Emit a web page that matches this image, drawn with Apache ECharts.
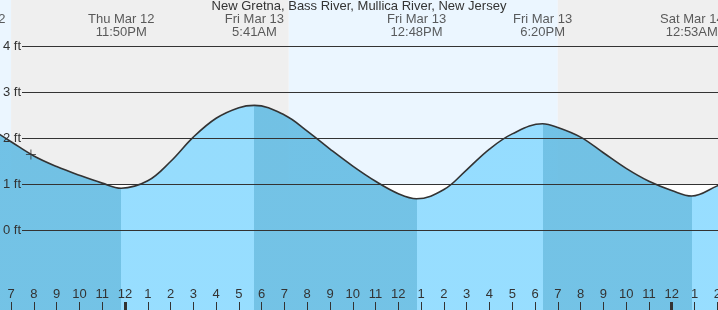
<!DOCTYPE html>
<html><head><meta charset="utf-8">
<script src="https://cdn.jsdelivr.net/npm/echarts@6/dist/echarts.min.js"></script>
<style>html,body{margin:0;padding:0;overflow:hidden;background:#fff}#c{width:718px;height:310px}</style>
</head><body><div id="c"></div>
<script>
const TITLE = 'New Gretna, Bass River, Mullica River, New Jersey';
// time = hours since Fri Mar 13 00:00, height in ft
const tideTimes = [-5.6,-5,-4,-3,-2,-1,-0.17,1,2,3,4,5,5.68,7,8,9,10,11,12,12.8,14,15,16,17,18.33,19,20,21,22,23,24,24.88,26,26.1];
const tideHeights = [2.12,1.93,1.62,1.39,1.20,1.03,0.92,1.08,1.50,2.03,2.44,2.67,2.72,2.51,2.16,1.77,1.40,1.07,0.80,0.69,0.89,1.32,1.77,2.10,2.32,2.24,2.03,1.69,1.35,1.07,0.87,0.75,0.97,1.0];

const extremeTimes = [-6.7, -0.1667, 5.6833, 12.8, 18.3333, 24.8833];
const extremeKinds = ['H','L','H','L','H','L'];
const extremeDates = ['Thu Mar 12','Thu Mar 12','Fri Mar 13','Fri Mar 13','Fri Mar 13','Sat Mar 14'];
const extremeClock = ['5:18PM','11:50PM','5:41AM','12:48PM','6:20PM','12:53AM'];

const sunEvents = [-5.0, 7.19, 19.0];        // sunset, sunrise, sunset
const sunKinds = ['set','rise','set'];

const hourTicks = [-5,-4,-3,-2,-1,0,1,2,3,4,5,6,7,8,9,10,11,12,13,14,15,16,17,18,19,20,21,22,23,24,25,26];
const midnightTicks = [0, 24];
const yTicks = [0,1,2,3,4];

const nowTime = -4.13, nowHeight = 1.65;

// ---- layout / style ----
const X_MIN = -5.487, X_MAX = 26.032;
const Y_MIN = -1.7283, Y_MAX = 5.0109;
const W = 718;
const PX_PER_H = W / (X_MAX - X_MIN);
const GRID_START = X_MIN + 22 / PX_PER_H;
const FONT = "'Liberation Sans', Arial, sans-serif";
const TXT = '#333';
const DAY = '#ebf6ff', NIGHT = '#efefef';
const RISE = '#8cdaff', FALL = '#64bce3';

const tideData = tideTimes.map((t, i) => [t, tideHeights[i]]);

const bands = [];
let start = X_MIN, isDay = sunKinds[0] === 'set';
for (let i = 0; i <= sunEvents.length; i++) {
  const end = i < sunEvents.length ? sunEvents[i] : X_MAX;
  bands.push([{xAxis: start, itemStyle: {color: isDay ? DAY : NIGHT}}, {xAxis: end}]);
  start = end; isDay = !isDay;
}

const pieces = [{lt: extremeTimes[0], color: extremeKinds[0] === 'H' ? RISE : FALL}];
extremeTimes.forEach((t, i) => {
  const p = {gte: t, color: extremeKinds[i] === 'H' ? FALL : RISE};
  if (i + 1 < extremeTimes.length) p.lt = extremeTimes[i + 1];
  pieces.push(p);
});

const gridLines = yTicks.map(v => [{coord: [GRID_START, v]}, {coord: [X_MAX, v]}]);

const hourLabel = v => { const h = ((v % 24) + 24) % 24; return String(h % 12 === 0 ? 12 : h % 12); };

const gridBox = {left: 0, right: 0, top: 0, bottom: 0, containLabel: false, outerBoundsMode: 'none'};
const SMOOTH = 0.38;

const chart = echarts.init(document.getElementById('c'), null, {renderer: 'canvas'});
chart.setOption({
  animation: false,
  backgroundColor: '#fff',
  title: {
    text: TITLE, left: 'center', top: 0, padding: 0,
    textStyle: {fontSize: 13, fontWeight: 'normal', color: TXT, fontFamily: FONT}
  },
  grid: [Object.assign({}, gridBox), Object.assign({}, gridBox)],
  xAxis: [{
    type: 'value', min: X_MIN, max: X_MAX, z: 10, position: 'bottom',
    axisLine: {show: false, onZero: false}, splitLine: {show: false},
    axisTick: {show: true, inside: true, length: 8, customValues: hourTicks, lineStyle: {color: TXT, width: 1}},
    axisLabel: {show: true, inside: true, margin: 9, customValues: hourTicks, formatter: hourLabel,
      fontSize: 13, color: TXT, fontFamily: FONT}
  }, {
    type: 'value', gridIndex: 1, min: X_MIN, max: X_MAX, z: 11, position: 'bottom',
    axisLine: {show: false, onZero: false}, splitLine: {show: false}, axisLabel: {show: false},
    axisTick: {show: true, inside: true, length: 8, customValues: midnightTicks, lineStyle: {color: TXT, width: 3}}
  }],
  yAxis: [{
    type: 'value', min: Y_MIN, max: Y_MAX, z: 10,
    axisLine: {show: false, onZero: false}, axisTick: {show: false}, splitLine: {show: false},
    axisLabel: {show: true, inside: true, margin: 3, customValues: yTicks, formatter: v => v + ' ft',
      fontSize: 13, color: TXT, fontFamily: FONT}
  }, {
    type: 'value', gridIndex: 1, min: Y_MIN, max: Y_MAX, show: false,
    axisLine: {onZero: false}
  }],
  visualMap: {
    type: 'piecewise', show: false, dimension: 0, seriesIndex: 3, pieces: pieces
  },
  series: [
    {type: 'line', z: 1, data: [], symbol: 'none', silent: true,
     markArea: {silent: true, data: bands}},
    {type: 'line', z: 2, data: [[X_MIN, 1], [X_MAX, 1]], symbol: 'none', silent: true,
     lineStyle: {width: 0}, areaStyle: {color: '#fff', opacity: 1, origin: 'start'}},
    {type: 'line', z: 3, data: [], symbol: 'none', silent: true,
     markLine: {silent: true, symbol: ['none', 'none'], label: {show: false},
       lineStyle: {color: TXT, width: 1, type: 'solid'}, data: gridLines}},
    {type: 'line', z: 4, data: tideData, smooth: SMOOTH, symbol: 'none', silent: true,
     lineStyle: {width: 0}, areaStyle: {opacity: 0.9, origin: 'start'}},
    {type: 'line', z: 5, data: tideData, smooth: SMOOTH, symbol: 'none', silent: true,
     lineStyle: {color: TXT, width: 1.6}},
    {type: 'scatter', z: 6, clip: false, silent: true, symbolSize: 0,
     data: extremeTimes.map(t => [t, Y_MAX]),
     label: {show: true, position: 'bottom', distance: 13, align: 'center',
       formatter: p => extremeDates[p.dataIndex] + '\n' + extremeClock[p.dataIndex],
       fontSize: 13, lineHeight: 13, color: TXT, fontFamily: FONT}},
    {type: 'scatter', z: 7, silent: true, symbolSize: 10,
     symbol: 'path://M0,4.5h10v1h-10z M4.5,0h1v10h-1z',
     itemStyle: {color: TXT}, data: [[nowTime, nowHeight]]}
  ]
});
</script></body></html>
